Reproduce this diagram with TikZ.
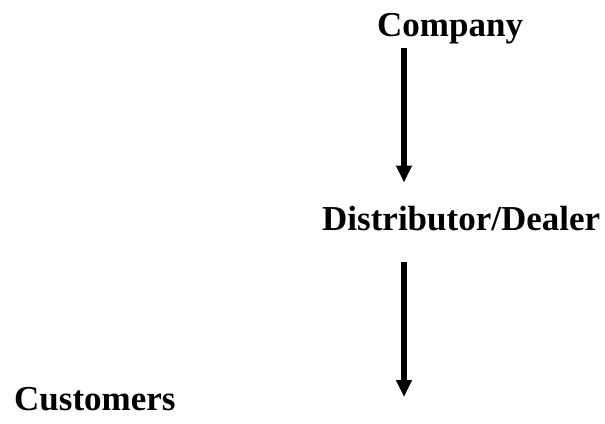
\documentclass[tikz,border=0pt]{standalone}
\usepackage{fontspec}
\setmainfont{Liberation Serif}
\usetikzlibrary{arrows.meta}

\begin{document}
\begin{tikzpicture}[x=1pt,y=1pt,>={Triangle[length=17pt,width=15pt]}]
    \tikzset{
        level/.style={inner sep=0pt,anchor=base west,
            font=\bfseries\fontsize{35}{40}\selectfont},
        flow/.style={->,line width=5.5pt}
    }
    \useasboundingbox (0,0) rectangle (605,-423);

    % The three stages of the chain, top to bottom.
    \node[level] (company) at (377,-36) {Company};
    \node[level] (dealer) at (322,-230) {Distributor/Dealer};
    \node[level] (customers) at (14,-410) {Customers};

    % Both arrows run down the same column.
    \coordinate (col) at (404,0);
    \draw[flow,shorten <=4.5pt,shorten >=23pt]
        (company.south -| col) -- (dealer.north -| col);
    \draw[flow,shorten <=31pt,shorten >=13pt]
        (dealer.south -| col) -- (customers.base -| col);
\end{tikzpicture}
\end{document}
